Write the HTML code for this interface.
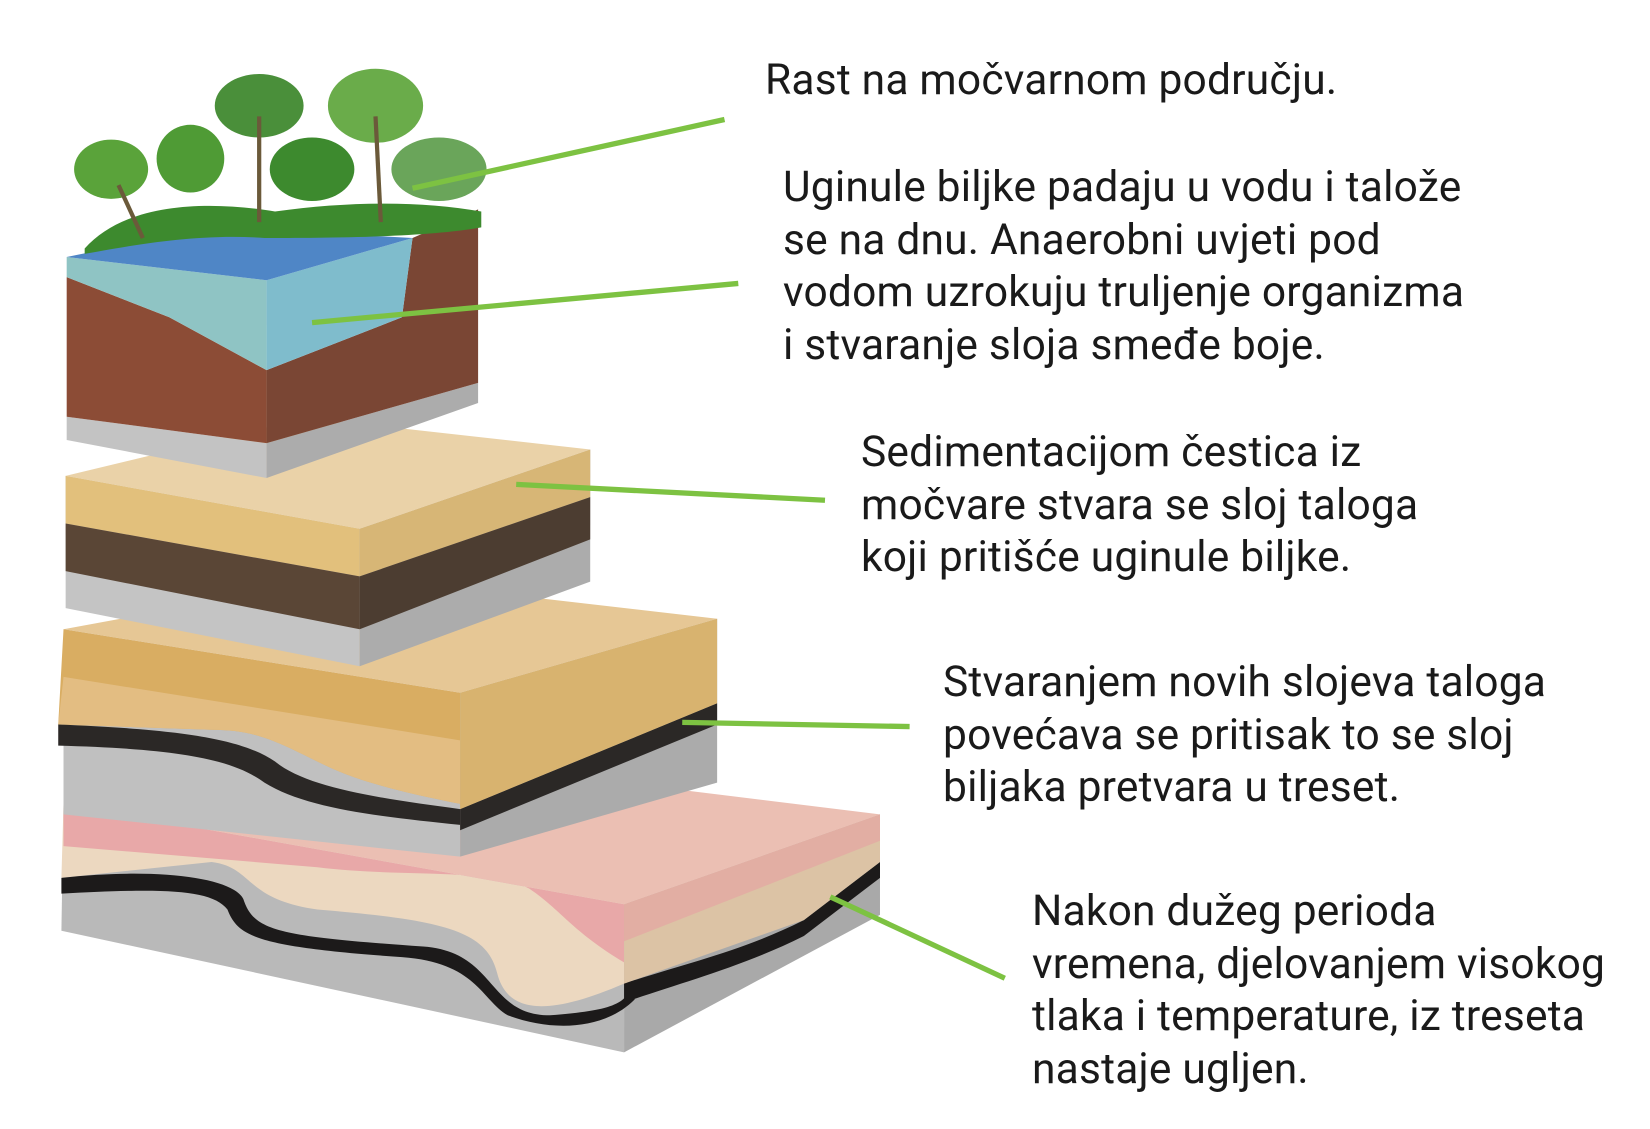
<!DOCTYPE html>
<html><head><meta charset="utf-8"><style>
body{margin:0;width:1650px;height:1129px;background:#fff;overflow:hidden;position:relative;font-family:"Roboto","Liberation Sans",sans-serif;color:#1a1a1a}
.t{position:absolute;font-size:42.5px;line-height:52.5px;white-space:nowrap;letter-spacing:0.2px}
svg{position:absolute;left:0;top:0}
</style></head><body>
<svg width="1650" height="1129" viewBox="0 0 1560 1067.5">
<!-- Block 4 -->
<polygon points="60,760 590,855 590,995 58,880" fill="#b9b9b9"/>
<polygon points="590,855 832,770 832,865 590,995" fill="#a9a9a9"/>
<path d="M60,760 L590,855 L590,930 C520,960 480,960 470,920 C460,880 420,870 300,860 C230,850 240,820 200,815 L58,830 Z" fill="#ecd8c0"/>
<path d="M60,760 L590,855 L590,910 C540,880 530,860 500,840 C460,820 380,830 300,820 L60,800 Z" fill="#e8a8a8"/>
<path d="M58,830 C150,820 220,830 230,850 C240,880 260,885 400,895 C470,900 460,960 520,960 C580,955 590,950 600,930 L600,945 C570,975 520,975 480,960 C455,945 450,910 380,905 C240,895 225,885 215,860 C200,840 150,840 58,845Z" fill="#1c1a1a"/>
<path d="M590,930 C650,910 700,900 760,870 L832,815 L832,830 L760,885 C700,915 640,930 590,948Z" fill="#1c1a1a"/>
<polygon points="590,855 832,770 832,815 760,870 590,930" fill="#dcc3a5"/>
<polygon points="590,855 832,770 832,795 590,890" fill="#e3a9a3" opacity=".8"/>
<polygon points="60,760 360,712 832,770 590,855" fill="#ebbfb3"/>
<!-- Block 3 -->
<polygon points="60,595 435,655 435,810 60,770" fill="#c0c0c0"/>
<polygon points="435,655 678,585 678,740 435,810" fill="#ababab"/>
<path d="M60,595 L435,655 L435,760 C360,745 330,735 300,720 C260,700 240,690 200,690 L55,685Z" fill="#d9ad62"/>
<path d="M60,640 L435,700 L435,760 C360,745 330,735 300,720 C260,700 240,690 200,690 L55,685Z" fill="#e3bd82"/>
<path d="M55,685 C180,690 230,700 260,720 C290,745 360,755 435,765 L435,780 C360,772 290,765 250,740 C220,718 170,708 55,705Z" fill="#2b2826"/>
<polygon points="435,765 678,665 678,685 435,785" fill="#2b2826"/>
<polygon points="435,655 678,585 678,665 435,765" fill="#d8b36f"/>
<polygon points="60,595 330,545 678,585 435,655" fill="#e6c795"/>
<!-- Block 2 -->
<polygon points="62,450 340,500 340,630 62,575" fill="#c4c4c4"/>
<polygon points="340,500 558,425 558,550 340,630" fill="#acacac"/>
<polygon points="62,450 340,500 340,545 62,495" fill="#e2c07c"/>
<polygon points="62,495 340,545 340,595 62,540" fill="#5a4636"/>
<polygon points="340,500 558,425 558,470 340,545" fill="#d7b676"/>
<polygon points="340,545 558,470 558,510 340,595" fill="#4c3d31"/>
<polygon points="62,450 290,395 558,425 340,500" fill="#ead2a8"/>
<!-- Block 1 -->
<polygon points="63,394 252,419 252,452 63,416" fill="#c3c3c3"/>
<polygon points="252,419 452,362 452,381 252,452" fill="#acacac"/>
<polygon points="63,262 160,300 252,350 252,419 63,394" fill="#8c4c36"/>
<polygon points="252,350 380,300 390,225 452,198 452,362 252,419" fill="#7a4634"/>
<polygon points="63,243 252,265 252,350 160,300 63,262" fill="#8fc4c4"/>
<polygon points="252,265 390,225 380,300 252,350" fill="#7fbccc"/>
<polygon points="63,243 200,215 390,225 252,265" fill="#4f86c6"/>
<g fill="#3d8a2e">
<ellipse cx="105" cy="160" rx="35" ry="28" fill="#5aa33a"/>
<ellipse cx="180" cy="150" rx="32" ry="32" fill="#4f9b35"/>
<ellipse cx="245" cy="100" rx="42" ry="30" fill="#4a8f3a"/>
<ellipse cx="355" cy="100" rx="45" ry="35" fill="#6aac4a"/>
<ellipse cx="295" cy="160" rx="40" ry="30"/>
<ellipse cx="415" cy="160" rx="45" ry="30" fill="#6aa55a"/>
<path d="M80,235 C120,190 200,190 260,200 C330,190 400,190 455,200 L455,215 C400,225 300,225 250,225 C180,220 110,235 80,240Z"/>
</g>
<g stroke="#6b5a3a" stroke-width="4"><line x1="245" y1="110" x2="245" y2="210"/><line x1="355" y1="110" x2="360" y2="210"/><line x1="112" y1="175" x2="135" y2="225"/></g>
<!-- connectors -->
<g stroke="#7dc242" stroke-width="5" fill="none">
<line x1="390" y1="178" x2="685" y2="113"/>
<line x1="295" y1="305" x2="698" y2="268"/>
<line x1="488" y1="458" x2="780" y2="473"/>
<line x1="645" y1="683" x2="860" y2="687"/>
<line x1="785" y1="848" x2="950" y2="925"/>
</g>
</svg>
<div class="t" style="left:765px;top:55px">Rast na močvarnom području.</div>
<div class="t" style="left:783px;top:162px">Uginule biljke padaju u vodu i talože<br>se na dnu. Anaerobni uvjeti pod<br>vodom uzrokuju truljenje organizma<br>i stvaranje sloja smeđe boje.</div>
<div class="t" style="left:861px;top:427px">Sedimentacijom čestica iz<br>močvare stvara se sloj taloga<br>koji pritišće uginule biljke.</div>
<div class="t" style="left:943px;top:657px">Stvaranjem novih slojeva taloga<br>povećava se pritisak to se sloj<br>biljaka pretvara u treset.</div>
<div class="t" style="left:1032px;top:886px">Nakon dužeg perioda<br>vremena, djelovanjem visokog<br>tlaka i temperature, iz treseta<br>nastaje ugljen.</div>
</body></html>
